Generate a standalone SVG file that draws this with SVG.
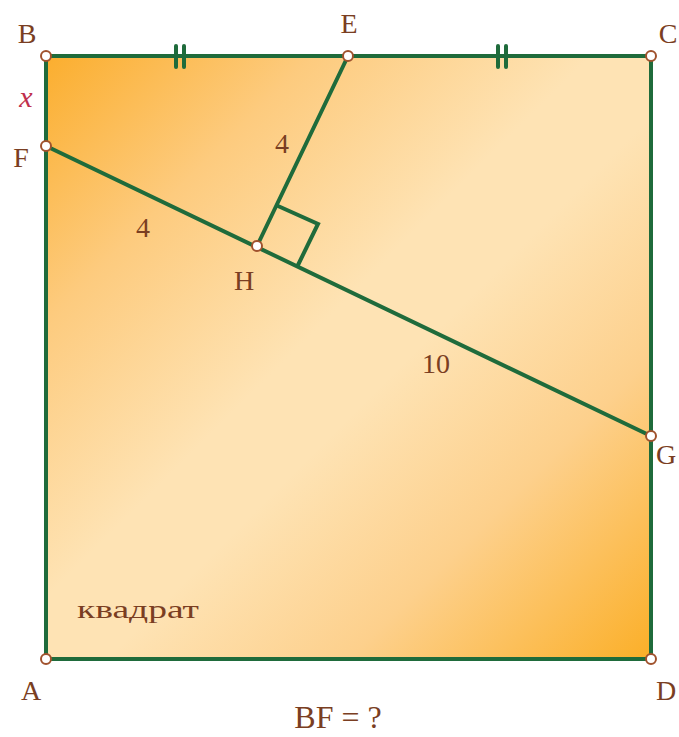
<svg xmlns="http://www.w3.org/2000/svg" width="679" height="737" viewBox="0 0 679 737">
<defs>
<linearGradient id="bg" x1="0" y1="0" x2="1" y2="1">
<stop offset="0" stop-color="#FBAE2E"/>
<stop offset="0.22" stop-color="#FDCB7E"/>
<stop offset="0.45" stop-color="#FEE3B4"/>
<stop offset="0.55" stop-color="#FEE3B4"/>
<stop offset="0.75" stop-color="#FDD08C"/>
<stop offset="1" stop-color="#FBAF28"/>
</linearGradient>
<style>
.ln{stroke:#1F6B3B;stroke-width:4;fill:none;stroke-linecap:round}
.pt{fill:#fff;stroke:#A0522D;stroke-width:2}
.lb{font-family:"Liberation Serif","DejaVu Serif",serif;font-size:28px;fill:#7A3E22;text-anchor:middle}
.x{font-family:"Liberation Serif","DejaVu Serif",serif;font-style:italic;font-size:30px;fill:#C0304E;text-anchor:middle}
</style>
</defs>
<rect x="46" y="56" width="605" height="603" fill="url(#bg)"/>
<g id="connectors">
<path class="ln" d="M46 56 H651 V659 H46 Z"/>
<line class="ln" x1="46" y1="146" x2="651" y2="436"/>
<line class="ln" x1="348" y1="56" x2="257" y2="246"/>
<polyline class="ln" stroke-width="3.5" points="278,206 318,224 298,265"/>
<line class="ln" stroke-width="3" x1="176" y1="46" x2="176" y2="67"/>
<line class="ln" stroke-width="3" x1="184" y1="46" x2="184" y2="67"/>
<line class="ln" stroke-width="3" x1="498" y1="46" x2="498" y2="67"/>
<line class="ln" stroke-width="3" x1="506" y1="46" x2="506" y2="67"/>
</g>
<g id="B"><circle class="pt" cx="46" cy="56" r="5"/><text class="lb" x="27" y="43">B</text></g>
<g id="E"><circle class="pt" cx="348" cy="56" r="5"/><text class="lb" x="349" y="33">E</text></g>
<g id="C"><circle class="pt" cx="651" cy="56" r="5"/><text class="lb" x="668" y="43">C</text></g>
<g id="F"><circle class="pt" cx="46" cy="146" r="5"/><text class="lb" x="21" y="167">F</text></g>
<g id="H"><circle class="pt" cx="257" cy="246" r="5"/><text class="lb" x="244" y="290">H</text></g>
<g id="G"><circle class="pt" cx="651" cy="436" r="5"/><text class="lb" x="666" y="464">G</text></g>
<g id="A"><circle class="pt" cx="46" cy="659" r="5"/><text class="lb" x="31" y="700">A</text></g>
<g id="D"><circle class="pt" cx="651" cy="659" r="5"/><text class="lb" x="666" y="700">D</text></g>
<g id="labels">
<text class="x" x="26" y="107">x</text>
<text class="lb" x="282" y="153">4</text>
<text class="lb" x="143" y="237">4</text>
<text class="lb" x="436" y="373">10</text>
<text class="lb" x="138" y="618" style="font-size:26px" textLength="122" lengthAdjust="spacingAndGlyphs">квадрат</text>
<text class="lb" x="338" y="728" style="font-size:32px">BF = ?</text>
</g>
</svg>
